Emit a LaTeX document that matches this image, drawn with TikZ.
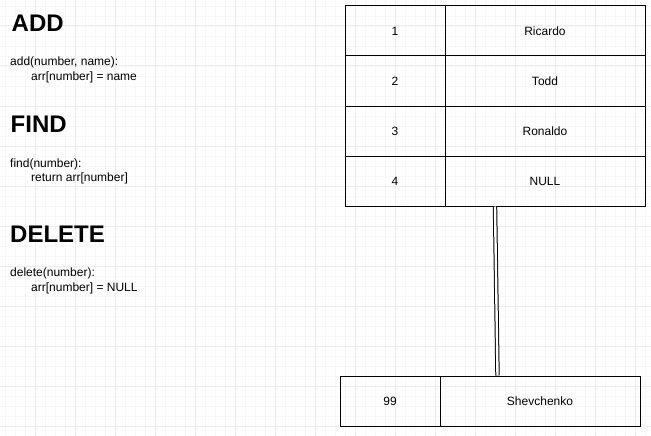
\documentclass[tikz,border=0pt]{standalone}
\usepackage{fontspec}
\setmainfont{Liberation Sans}
\begin{document}
\begin{tikzpicture}[x=1pt,y=-1pt,
  minorgrid/.style={draw=black!3,line width=0.8pt},
  majorgrid/.style={draw=black!7,line width=1pt},
  cell/.style={draw=black,line width=1pt,inner sep=0pt,minimum height=50pt,
    font=\fontsize{12}{14}\selectfont},
  numcell/.style={cell,minimum width=100pt},
  namecell/.style={cell,minimum width=200pt},
  heading/.style={anchor=base west,inner sep=0pt,font=\fontsize{24}{28}\selectfont\bfseries},
  code/.style={anchor=base west,inner sep=0pt,font=\fontsize{12}{14}\selectfont},
  link/.style={draw=black,line width=1pt,double=white,double distance=2.4pt}]
\useasboundingbox (0,0) rectangle (651,436);
\fill[white] (0,0) rectangle (651,436);
% grid
\foreach \x in {5,15,...,645} \draw[minorgrid] (\x,0) -- (\x,436);
\foreach \y in {6,16,...,436} \draw[minorgrid] (0,\y) -- (651,\y);
\foreach \x in {35,75,...,635} \draw[majorgrid] (\x,0) -- (\x,436);
\foreach \y in {26,66,...,426} \draw[majorgrid] (0,\y) -- (651,\y);
% left texts
\node[heading] (hadd) at (11.5,32) {ADD};
\node[code] (cadd1) at (10,66) {add(number, name):};
\node[code] (cadd2) at (31,81) {arr[number] = name};
\node[heading] (hfind) at (10.5,132) {FIND};
\node[code] (cfind1) at (10,167) {find(number):};
\node[code] (cfind2) at (31,181.5) {return arr[number]};
\node[heading] (hdel) at (10,242.5) {DELETE};
\node[code] (cdel1) at (10,276.5) {delete(number):};
\node[code] (cdel2) at (31,291) {arr[number] = NULL};
% table
\node[numcell] (n1) at (395,31) {1};
\node[namecell] (m1) at (545,31) {Ricardo};
\node[numcell] (n2) at (395,81) {2};
\node[namecell] (m2) at (545,81) {Todd};
\node[numcell] (n3) at (395,131) {3};
\node[namecell] (m3) at (545,131) {Ronaldo};
\node[numcell] (n4) at (395,181) {4};
\node[namecell] (m4) at (545,181) {NULL};
% bottom entry
\node[numcell] (n99) at (390,401) {99};
\node[namecell] (m99) at (540,401) {Shevchenko};
% link
\coordinate (ltop) at (495,206.5);
\coordinate (lbot) at (497.5,375.5);
\draw[link] (ltop) -- (lbot);
\end{tikzpicture}
\end{document}
